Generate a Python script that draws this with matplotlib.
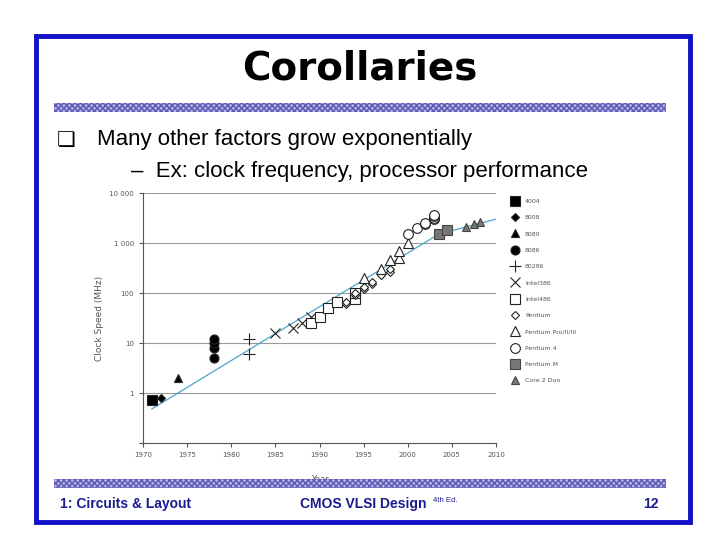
import matplotlib
matplotlib.use("Agg")
import matplotlib.pyplot as plt
from matplotlib.patches import Rectangle
import matplotlib.ticker as mt

series = ["4004", "8008", "8080", "8086", "80286", "Intel386", "Intel486", "Pentium",
          "Pentium Pro/II/III", "Pentium 4", "Pentium M", "Core 2 Duo"]
years = [
    [1971], [1972], [1974], [1978, 1978, 1978, 1978], [1982, 1982],
    [1985, 1987, 1988, 1989],
    [1989, 1990, 1991, 1992, 1994, 1994],
    [1993, 1993, 1994, 1994, 1995, 1995, 1996, 1996, 1997, 1998, 1998],
    [1995, 1997, 1998, 1999, 1999, 2000],
    [2000, 2001, 2002, 2002, 2003, 2003, 2003, 2003],
    [2003.5, 2004.4],
    [2006.6, 2007.5, 2008.2],
]
mhz = [
    [0.74], [0.8], [2], [5, 8, 10, 12], [6, 12],
    [16, 20, 25, 33],
    [25, 33, 50, 66, 75, 100],
    [60, 66, 90, 100, 120, 133, 150, 166, 233, 266, 300],
    [200, 300, 450, 500, 700, 1000],
    [1500, 2000, 2400, 2530, 3000, 3200, 3400, 3600],
    [1500, 1800],
    [2100, 2400, 2660],
]
trend_years = [1971, 2003.5, 2010]
trend_mhz = [0.48, 1500, 3000]
xticks = [1970, 1975, 1980, 1985, 1990, 1995, 2000, 2005, 2010]

markers = ["s", "D", "^", "o", "+", "x", "s", "D", "^", "o", "s", "^"]
faces = ["black", "black", "black", "black", "none", "none", "white", "white", "white", "white", "#777777", "#777777"]
sizes = [6.5, 4.5, 6, 6.5, 8, 7, 6.5, 4.5, 6.5, 7, 6.5, 5.5]

W, H = 720, 540
fig = plt.figure(figsize=(7.2, 5.4), dpi=100)
fig.patch.set_facecolor("white")
navy = "#1b1b8f"

def px(x, y, w, h):
    return [x / W, 1 - (y + h) / H, w / W, h / H]

fig.add_artist(Rectangle((36 / W, 1 - 522 / H), 654 / W, 486 / H, transform=fig.transFigure,
                         fill=False, edgecolor="#1010c8", linewidth=3.5))
for y0, h in [(103, 9), (479, 9)]:
    fig.add_artist(Rectangle((54 / W, 1 - (y0 + h) / H), 612 / W, h / H, transform=fig.transFigure,
                             facecolor="#b4b4dc", edgecolor="#5a5ab8", hatch="xxxxxx", linewidth=0))

fig.text(360 / W, 1 - 68 / H, "Corollaries", ha="center", va="center", fontsize=28,
         fontweight="bold", family="DejaVu Sans", color="black")
fig.text(57 / W, 1 - 140 / H, "\u274f", ha="left", va="center", fontsize=15, family="DejaVu Sans")
fig.text(97 / W, 1 - 140 / H, "Many other factors grow exponentially", ha="left", va="center",
         fontsize=16, family="Liberation Sans")
fig.text(131 / W, 1 - 172 / H, "\u2013  Ex: clock frequency, processor performance", ha="left",
         va="center", fontsize=16, family="Liberation Sans")
fig.text(60 / W, 1 - 504 / H, "1: Circuits & Layout", ha="left", va="center", fontsize=10,
         fontweight="bold", color=navy, family="Liberation Sans")
fig.text(300 / W, 1 - 504 / H, "CMOS VLSI Design", ha="left", va="center", fontsize=10,
         fontweight="bold", color=navy, family="Liberation Sans")
fig.text(433 / W, 1 - 500 / H, "4th Ed.", ha="left", va="center", fontsize=5.5, color=navy,
         family="Liberation Sans")
fig.text(658 / W, 1 - 504 / H, "12", ha="right", va="center", fontsize=10,
         fontweight="bold", color=navy, family="Liberation Sans")

ax = fig.add_axes(px(143, 193, 353, 250))
ax.set_yscale("log")
ax.set_xlim(1970, 2010)
ax.set_ylim(0.1, 10000)
for yv in [1, 10, 100, 1000, 10000]:
    ax.axhline(yv, color="#9a9a9a", linewidth=0.8, zorder=0)
ax.plot(trend_years, trend_mhz, color="#4aa6c8", linewidth=0.9, zorder=1)
for i, name in enumerate(series):
    ax.plot(years[i], mhz[i], linestyle="none", marker=markers[i], markersize=sizes[i],
            markerfacecolor=faces[i], markeredgecolor="#222222" if i < 10 else "#444444",
            markeredgewidth=0.8, color="black", label=name, zorder=3)
ax.set_xticks(xticks)
ax.set_yticks([0.1, 1, 10, 100, 1000, 10000])
ax.yaxis.set_major_formatter(mt.FixedFormatter(["", "1", "10", "100", "1 000", "10 000"]))
ax.yaxis.set_minor_locator(mt.NullLocator())
ax.tick_params(labelsize=5, colors="#555555", length=3)
for s in ["top", "right"]:
    ax.spines[s].set_visible(False)
for s in ["left", "bottom"]:
    ax.spines[s].set_color("#555555")
ax.set_xlabel("Year", fontsize=6, color="#555555", labelpad=12)
ax.set_ylabel("Clock Speed (MHz)", fontsize=6.5, color="#555555")
ax.legend(loc="upper left", bbox_to_anchor=(1.02, 1.0), frameon=False, fontsize=4.5,
          labelspacing=1.75, handletextpad=0.6, markerscale=1.0, labelcolor="#555555")

fig.savefig("out.png", dpi=100)
